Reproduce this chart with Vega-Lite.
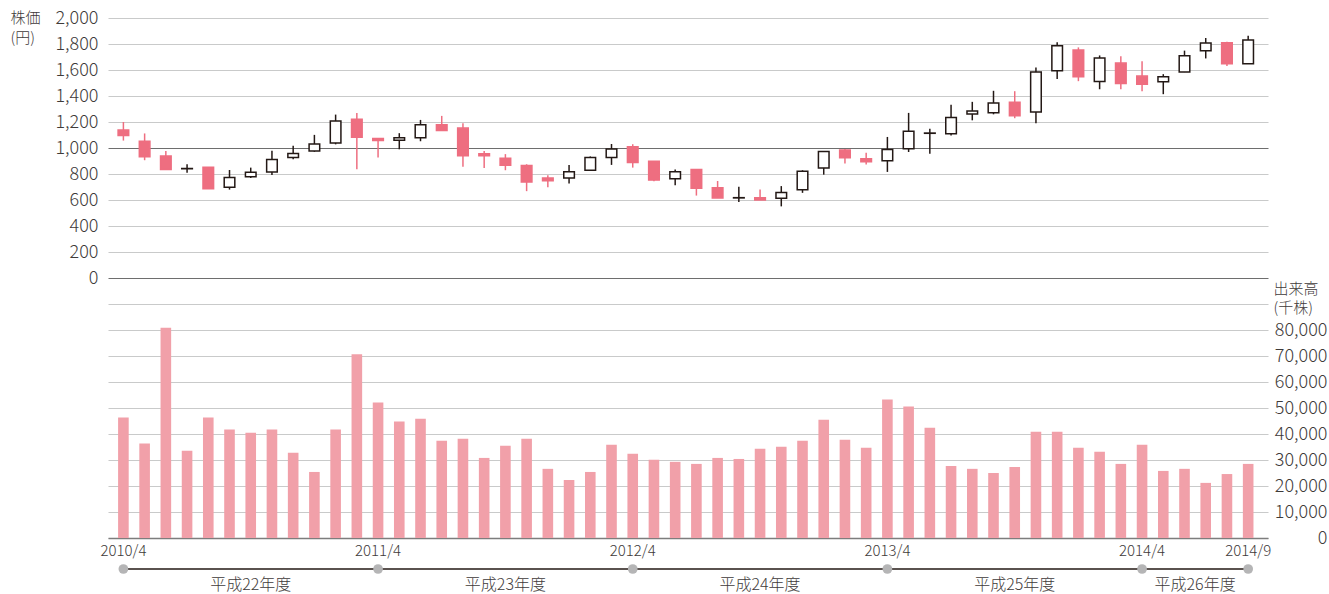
{
  "$schema": "https://vega.github.io/schema/vega-lite/v6.json",
  "background": "white",
  "padding": {"left": 10, "top": 9, "right": 2, "bottom": 2},
  "bounds": "flush",
  "spacing": 26,
  "resolve": {"scale": {"x": "shared"}},
  "config": {
    "view": {"stroke": null},
    "font": "Noto Sans CJK JP",
    "axis": {"labelFont": "Noto Sans CJK JP", "titleFont": "Noto Sans CJK JP", "labelFontWeight": 300, "titleFontWeight": 300, "labelColor": "#3e3a39", "titleColor": "#3e3a39"},
    "text": {"font": "Noto Sans CJK JP", "fontWeight": 300, "color": "#3e3a39"}
  },
  "datasets": {
    "monthly": [
      {"m": "2010-04", "o": 1138, "h": 1200, "l": 1057, "c": 1096, "v": 46300},
      {"m": "2010-05", "o": 1052, "h": 1112, "l": 906, "c": 932, "v": 36300},
      {"m": "2010-06", "o": 938, "h": 977, "l": 834, "c": 834, "v": 80900},
      {"m": "2010-07", "o": 840, "h": 875, "l": 810, "c": 842, "v": 33600},
      {"m": "2010-08", "o": 852, "h": 852, "l": 686, "c": 686, "v": 46300},
      {"m": "2010-09", "o": 699, "h": 831, "l": 680, "c": 774, "v": 41700},
      {"m": "2010-10", "o": 779, "h": 849, "l": 769, "c": 813, "v": 40500},
      {"m": "2010-11", "o": 816, "h": 979, "l": 792, "c": 912, "v": 41700},
      {"m": "2010-12", "o": 927, "h": 1018, "l": 914, "c": 958, "v": 32800},
      {"m": "2011-01", "o": 977, "h": 1101, "l": 971, "c": 1031, "v": 25400},
      {"m": "2011-02", "o": 1039, "h": 1257, "l": 1028, "c": 1208, "v": 41700},
      {"m": "2011-03", "o": 1221, "h": 1270, "l": 836, "c": 1083, "v": 70700},
      {"m": "2011-04", "o": 1073, "h": 1073, "l": 927, "c": 1057, "v": 52100},
      {"m": "2011-05", "o": 1060, "h": 1114, "l": 990, "c": 1078, "v": 44800},
      {"m": "2011-06", "o": 1078, "h": 1216, "l": 1052, "c": 1179, "v": 45900},
      {"m": "2011-07", "o": 1179, "h": 1247, "l": 1135, "c": 1135, "v": 37400},
      {"m": "2011-08", "o": 1153, "h": 1190, "l": 855, "c": 940, "v": 38200},
      {"m": "2011-09", "o": 956, "h": 977, "l": 847, "c": 940, "v": 30800},
      {"m": "2011-10", "o": 922, "h": 953, "l": 829, "c": 868, "v": 35500},
      {"m": "2011-11", "o": 865, "h": 875, "l": 668, "c": 738, "v": 38200},
      {"m": "2011-12", "o": 769, "h": 790, "l": 699, "c": 748, "v": 26600},
      {"m": "2012-01", "o": 769, "h": 870, "l": 727, "c": 818, "v": 22300},
      {"m": "2012-02", "o": 829, "h": 935, "l": 829, "c": 927, "v": 25400},
      {"m": "2012-03", "o": 927, "h": 1031, "l": 870, "c": 992, "v": 35900},
      {"m": "2012-04", "o": 1010, "h": 1029, "l": 849, "c": 888, "v": 32400},
      {"m": "2012-05", "o": 899, "h": 899, "l": 745, "c": 753, "v": 30100},
      {"m": "2012-06", "o": 764, "h": 834, "l": 714, "c": 818, "v": 29300},
      {"m": "2012-07", "o": 834, "h": 834, "l": 634, "c": 691, "v": 28500},
      {"m": "2012-08", "o": 694, "h": 746, "l": 616, "c": 616, "v": 30800},
      {"m": "2012-09", "o": 616, "h": 701, "l": 585, "c": 618, "v": 30400},
      {"m": "2012-10", "o": 618, "h": 681, "l": 600, "c": 600, "v": 34300},
      {"m": "2012-11", "o": 613, "h": 707, "l": 551, "c": 657, "v": 35100},
      {"m": "2012-12", "o": 678, "h": 829, "l": 655, "c": 821, "v": 37400},
      {"m": "2013-01", "o": 847, "h": 974, "l": 795, "c": 974, "v": 45500},
      {"m": "2013-02", "o": 984, "h": 992, "l": 881, "c": 925, "v": 37800},
      {"m": "2013-03", "o": 917, "h": 964, "l": 873, "c": 894, "v": 34700},
      {"m": "2013-04", "o": 902, "h": 1085, "l": 816, "c": 988, "v": 53300},
      {"m": "2013-05", "o": 994, "h": 1270, "l": 969, "c": 1128, "v": 50600},
      {"m": "2013-06", "o": 1113, "h": 1149, "l": 956, "c": 1115, "v": 42400},
      {"m": "2013-07", "o": 1110, "h": 1332, "l": 1097, "c": 1234, "v": 27700},
      {"m": "2013-08", "o": 1262, "h": 1355, "l": 1213, "c": 1285, "v": 26600},
      {"m": "2013-09", "o": 1272, "h": 1440, "l": 1259, "c": 1347, "v": 25000},
      {"m": "2013-10", "o": 1352, "h": 1437, "l": 1229, "c": 1249, "v": 27300},
      {"m": "2013-11", "o": 1277, "h": 1620, "l": 1190, "c": 1584, "v": 40900},
      {"m": "2013-12", "o": 1594, "h": 1813, "l": 1530, "c": 1787, "v": 40900},
      {"m": "2014-01", "o": 1754, "h": 1774, "l": 1514, "c": 1548, "v": 34700},
      {"m": "2014-02", "o": 1512, "h": 1712, "l": 1452, "c": 1692, "v": 33200},
      {"m": "2014-03", "o": 1653, "h": 1705, "l": 1452, "c": 1496, "v": 28500},
      {"m": "2014-04", "o": 1553, "h": 1668, "l": 1437, "c": 1491, "v": 35900},
      {"m": "2014-05", "o": 1509, "h": 1568, "l": 1414, "c": 1548, "v": 25800},
      {"m": "2014-06", "o": 1584, "h": 1749, "l": 1584, "c": 1710, "v": 26600},
      {"m": "2014-07", "o": 1749, "h": 1846, "l": 1689, "c": 1808, "v": 21200},
      {"m": "2014-08", "o": 1810, "h": 1818, "l": 1630, "c": 1648, "v": 24600},
      {"m": "2014-09", "o": 1648, "h": 1864, "l": 1648, "c": 1831, "v": 28500}
    ],
    "span": [{"start": "2010-04", "end": "2014-09"}],
    "dots": [
      {"m": "2010-04"}, {"m": "2011-04"}, {"m": "2012-04"}, {"m": "2013-04"}, {"m": "2014-04"}, {"m": "2014-09"}
    ],
    "fy": [
      {"m": "2010-10", "label": "平成22年度"},
      {"m": "2011-10", "label": "平成23年度"},
      {"m": "2012-10", "label": "平成24年度"},
      {"m": "2013-10", "label": "平成25年度"}
    ],
    "fy26": [{"m": "2014-06", "label": "平成26年度"}]
  },
  "vconcat": [
    {
      "width": 1160,
      "height": 260,
      "data": {"name": "monthly"},
      "encoding": {
        "x": {"field": "m", "type": "ordinal", "scale": {"paddingInner": 0.5, "paddingOuter": 0.58, "align": 0.41}, "axis": null}
      },
      "layer": [
        {
          "mark": {"type": "rule", "strokeWidth": 1.5},
          "encoding": {
            "y": {"field": "l", "type": "quantitative", "scale": {"domain": [0, 2000]},
              "axis": {
                "values": [0, 200, 400, 600, 800, 1000, 1200, 1400, 1600, 1800, 2000],
                "labelExpr": "format(datum.value, ',')",
                "labelOverlap": false,
                "labelFlush": false,
                "title": ["株価", "(円)"],
                "titleAngle": 0, "titleAlign": "left", "titleBaseline": "top",
                "titleX": -98, "titleY": -8, "titleFontSize": 15, "titleLineHeight": 20,
                "labelFontSize": 18, "labelPadding": 10, "ticks": false, "domain": false,
                "gridColor": {"condition": {"test": "datum.value === 0 || datum.value === 1000", "value": "#6e6e6e"}, "value": "#c9caca"},
                "gridWidth": 1.2
              }
            },
            "y2": {"field": "h"},
            "color": {"condition": {"test": "datum.c < datum.o", "value": "#ee6e80"}, "value": "#231815"}
          }
        },
        {
          "mark": {"type": "bar", "strokeWidth": 1.5},
          "encoding": {
            "y": {"field": "o", "type": "quantitative", "scale": {"domain": [0, 2000]},
              "axis": {
                "values": [0, 200, 400, 600, 800, 1000, 1200, 1400, 1600, 1800, 2000],
                "labelExpr": "format(datum.value, ',')",
                "labelOverlap": false,
                "labelFlush": false,
                "title": ["株価", "(円)"],
                "titleAngle": 0, "titleAlign": "left", "titleBaseline": "top",
                "titleX": -98, "titleY": -8, "titleFontSize": 15, "titleLineHeight": 20,
                "labelFontSize": 18, "labelPadding": 10, "ticks": false, "domain": false,
                "gridColor": {"condition": {"test": "datum.value === 0 || datum.value === 1000", "value": "#6e6e6e"}, "value": "#c9caca"},
                "gridWidth": 1.2
              }
            },
            "y2": {"field": "c"},
            "fill": {"condition": {"test": "datum.c < datum.o", "value": "#ee6e80"}, "value": "white"},
            "stroke": {"condition": {"test": "datum.c < datum.o", "value": "#ee6e80"}, "value": "#231815"}
          }
        }
      ]
    },
    {
      "width": 1160,
      "height": 234,
      "data": {"name": "monthly"},
      "mark": {"type": "bar", "color": "#f1a0a9"},
      "encoding": {
        "x": {"field": "m", "type": "ordinal", "scale": {"paddingInner": 0.5, "paddingOuter": 0.58, "align": 0.41},
          "axis": {
            "values": ["2010-04", "2011-04", "2012-04", "2013-04", "2014-04", "2014-09"],
            "labelExpr": "replace(replace(datum.label, '-0', '/'), '-', '/')",
            "labelAngle": 0, "ticks": false, "domainColor": "#7d7d7d", "domainWidth": 1.5,
            "labelFontSize": 15, "labelPadding": 5, "title": null
          }
        },
        "y": {"field": "v", "type": "quantitative", "scale": {"domain": [0, 90000]},
          "axis": {
            "orient": "right",
            "values": [0, 10000, 20000, 30000, 40000, 50000, 60000, 70000, 80000, 90000],
            "labelExpr": "datum.value >= 90000 ? '' : format(datum.value, ',')",
            "labelOverlap": false,
            "labelFlush": false,
            "labelAlign": "right", "labelPadding": 59, "labelFontSize": 18,
            "ticks": false, "domain": false, "gridColor": "#c9caca", "gridWidth": 1.2,
            "title": ["出来高", "(千株)"],
            "titleAngle": 0, "titleAlign": "left", "titleBaseline": "top",
            "titleX": 5, "titleY": -23, "titleFontSize": 15, "titleLineHeight": 19
          }
        }
      }
    },
    {
      "width": 1160,
      "height": 10,
      "layer": [
        {
          "data": {"name": "span"},
          "mark": {"type": "rule", "color": "#231815", "strokeWidth": 1.5},
          "encoding": {
            "x": {"field": "start", "type": "ordinal", "scale": {"paddingInner": 0.5, "paddingOuter": 0.58, "align": 0.41}, "axis": null},
            "x2": {"field": "end"}
          }
        },
        {
          "data": {"name": "dots"},
          "mark": {"type": "circle", "size": 95, "color": "#b5b5b6", "opacity": 1},
          "encoding": {
            "x": {"field": "m", "type": "ordinal", "axis": null}
          }
        },
        {
          "data": {"name": "fy"},
          "mark": {"type": "text", "dy": 16, "fontSize": 16},
          "encoding": {
            "x": {"field": "m", "type": "ordinal", "axis": null},
            "text": {"field": "label"}
          }
        },
        {
          "data": {"name": "fy26"},
          "mark": {"type": "text", "dy": 16, "dx": 10.6, "fontSize": 16},
          "encoding": {
            "x": {"field": "m", "type": "ordinal", "axis": null},
            "text": {"field": "label"}
          }
        }
      ]
    }
  ]
}
